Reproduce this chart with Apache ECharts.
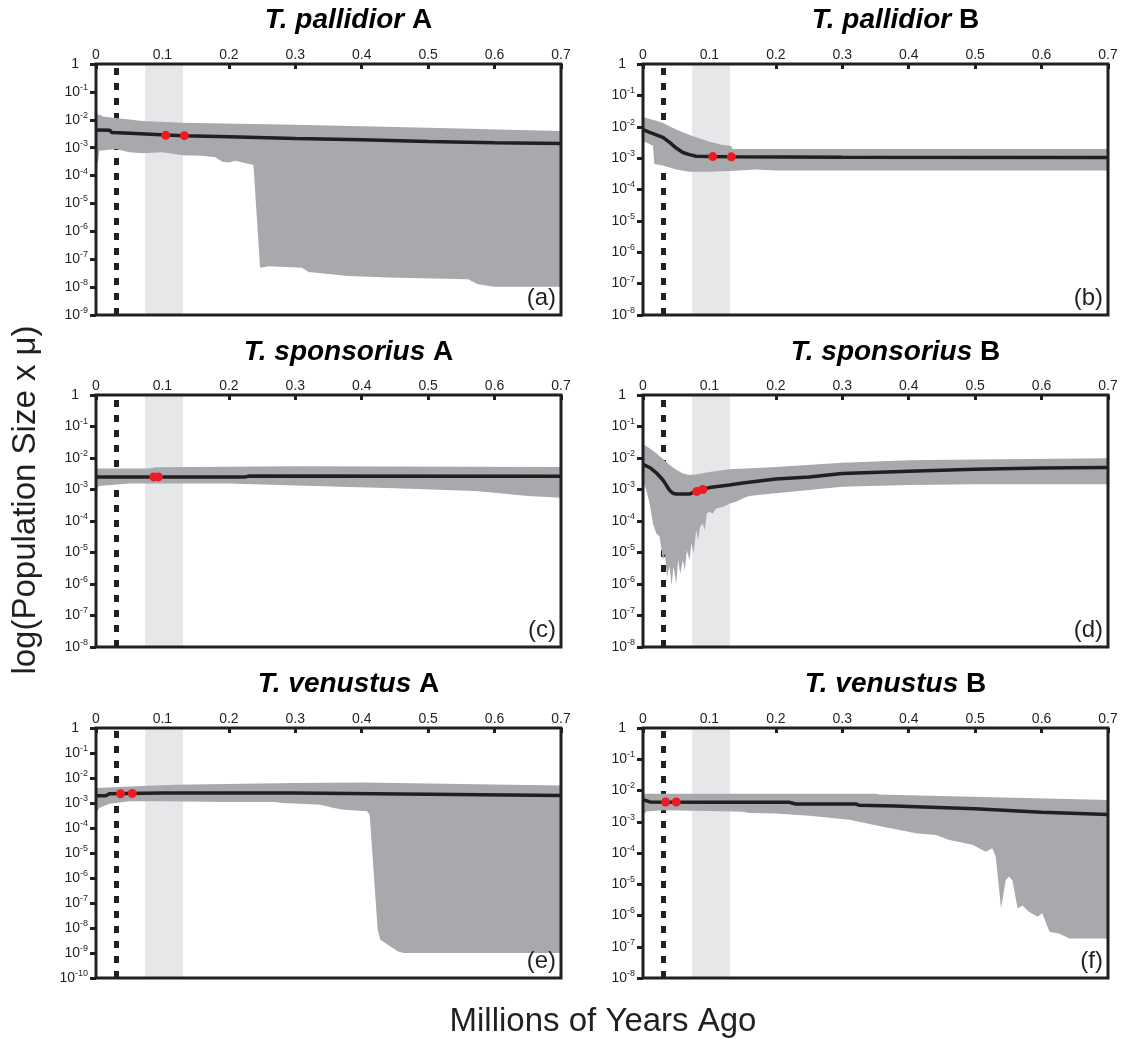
<!DOCTYPE html>
<html>
<head>
<meta charset="utf-8">
<script src="https://cdn.jsdelivr.net/npm/echarts@6/dist/echarts.min.js"></script>
<style>
html,body{margin:0;padding:0;background:#fff;}
#chart{width:1126px;height:1042px;}
</style>
</head>
<body>
<div id="chart"></div>
<script>
// ---------------- DATA ----------------
const xTicks = [0, 0.1, 0.2, 0.3, 0.4, 0.5, 0.6, 0.7];
const panelLetters = ['(a)', '(b)', '(c)', '(d)', '(e)', '(f)'];
const panelSpecies = ['T. pallidior', 'T. pallidior', 'T. sponsorius', 'T. sponsorius', 'T. venustus', 'T. venustus'];
const panelClade = ['A', 'B', 'A', 'B', 'A', 'B'];
const lgmLine = 0.026;            // dashed vertical reference (Myr)
const shadedPeriod = [0.074, 0.131];

// (a) T. pallidior A
const aMedX = [0, 0.021, 0.024, 0.060, 0.063, 0.105, 0.133, 0.2, 0.3, 0.4, 0.5, 0.6, 0.7];
const aMed  = [4.27e-3, 4.17e-3, 3.47e-3, 3.24e-3, 3.02e-3, 2.82e-3, 2.69e-3, 2.45e-3, 2.14e-3, 1.91e-3, 1.66e-3, 1.51e-3, 1.41e-3];
const aUpX  = [0, 0.008, 0.01, 0.03, 0.07, 0.13, 0.3, 0.5, 0.7];
const aUp   = [1.58e-2, 1.45e-2, 1.32e-2, 1.15e-2, 9.1e-3, 7.9e-3, 6.6e-3, 5.2e-3, 4.0e-3];
const aLoX  = [0, 0.003, 0.005, 0.03, 0.05, 0.07, 0.1, 0.13, 0.16, 0.18, 0.19, 0.2, 0.21, 0.23, 0.237, 0.247, 0.26, 0.31, 0.32, 0.38, 0.44, 0.56, 0.575, 0.6, 0.7];
const aLo   = [2.95e-4, 3.0e-4, 7.8e-4, 8.9e-4, 6.8e-4, 6.3e-4, 6.8e-4, 5.4e-4, 5.1e-4, 4.5e-4, 3.1e-4, 2.95e-4, 3.4e-4, 2.6e-4, 2.4e-4, 4.9e-8, 5.6e-8, 4.9e-8, 3.5e-8, 2.5e-8, 2.2e-8, 1.9e-8, 1.26e-8, 1.02e-8, 1.02e-8];
const aDotX = [0.105, 0.133];
const aDot  = [2.8e-3, 2.7e-3];

// (b) T. pallidior B
const bMedX = [0, 0.01, 0.02, 0.03, 0.04, 0.05, 0.06, 0.07, 0.08, 0.1, 0.133, 0.3, 0.7];
const bMed  = [8.1e-3, 6.6e-3, 5.5e-3, 4.6e-3, 3.16e-3, 2.09e-3, 1.51e-3, 1.29e-3, 1.15e-3, 1.12e-3, 1.10e-3, 1.07e-3, 1.05e-3];
const bUpX  = [0, 0.02, 0.03, 0.05, 0.07, 0.08, 0.1, 0.12, 0.132, 0.135, 0.7];
const bUp   = [2.0e-2, 1.55e-2, 1.32e-2, 8.1e-3, 5.5e-3, 4.6e-3, 3.3e-3, 2.6e-3, 2.5e-3, 1.95e-3, 1.95e-3];
const bLoX  = [0, 0.015, 0.017, 0.03, 0.05, 0.07, 0.1, 0.13, 0.17, 0.2, 0.7];
const bLo   = [3.5e-3, 2.5e-3, 6.5e-4, 5.8e-4, 4.3e-4, 3.7e-4, 3.7e-4, 3.9e-4, 4.3e-4, 4.0e-4, 4.0e-4];
const bDotX = [0.105, 0.133];
const bDot  = [1.12e-3, 1.10e-3];

// (c) T. sponsorius A
const cMedX = [0, 0.225, 0.23, 0.7];
const cMed  = [2.51e-3, 2.51e-3, 2.66e-3, 2.63e-3];
const cUpX  = [0, 0.08, 0.09, 0.3, 0.7];
const cUp   = [4.6e-3, 4.6e-3, 5.1e-3, 5.5e-3, 5.2e-3];
const cLoX  = [0, 0.004, 0.05, 0.2, 0.3, 0.45, 0.57, 0.6, 0.65, 0.7];
const cLo   = [7.9e-4, 1.29e-3, 1.55e-3, 1.55e-3, 1.35e-3, 1.10e-3, 8.9e-4, 7.9e-4, 6.2e-4, 5.5e-4];
const cDotX = [0.087, 0.094];
const cDot  = [2.51e-3, 2.51e-3];

// (d) T. sponsorius B
const dMedX = [0, 0.01, 0.02, 0.03, 0.035, 0.04, 0.045, 0.05, 0.07, 0.075, 0.08, 0.09, 0.1, 0.13, 0.15, 0.2, 0.25, 0.3, 0.4, 0.5, 0.6, 0.7];
const dMed  = [6.3e-3, 5.0e-3, 3.4e-3, 2.0e-3, 1.38e-3, 9.5e-4, 7.6e-4, 7.2e-4, 7.2e-4, 7.9e-4, 8.9e-4, 1.0e-3, 1.15e-3, 1.38e-3, 1.62e-3, 2.14e-3, 2.5e-3, 3.2e-3, 3.8e-3, 4.4e-3, 4.8e-3, 5.0e-3];
const dUpX  = [0, 0.01, 0.02, 0.03, 0.04, 0.05, 0.06, 0.07, 0.08, 0.1, 0.13, 0.2, 0.3, 0.4, 0.5, 0.7];
const dUp   = [2.75e-2, 2.04e-2, 1.41e-2, 9.3e-3, 6.0e-3, 4.2e-3, 3.2e-3, 2.9e-3, 3.0e-3, 3.6e-3, 4.4e-3, 5.2e-3, 7.1e-3, 8.5e-3, 8.9e-3, 9.8e-3];
const dLoX  = [0, 0.005, 0.01, 0.015, 0.02, 0.025, 0.03, 0.033, 0.036, 0.04, 0.043, 0.046, 0.05, 0.053, 0.056, 0.06, 0.063, 0.066, 0.07, 0.073, 0.076, 0.08, 0.083, 0.086, 0.09, 0.093, 0.096, 0.1, 0.105, 0.11, 0.12, 0.13, 0.14, 0.15, 0.16, 0.18, 0.2, 0.3, 0.4, 0.5, 0.7];
const dLo   = [2.0e-3, 9.5e-4, 3.6e-4, 8.3e-5, 4.0e-5, 3.2e-5, 5.8e-6, 9.3e-6, 1.7e-6, 3.5e-6, 9.1e-7, 3.5e-6, 1.02e-6, 5.8e-6, 2.1e-6, 5.8e-6, 2.75e-6, 1.17e-5, 5.8e-6, 1.95e-5, 9.3e-6, 5.1e-5, 2.5e-5, 6.6e-5, 8.3e-5, 5.1e-5, 1.74e-4, 1.95e-4, 1.74e-4, 2.5e-4, 2.8e-4, 3.5e-4, 4.1e-4, 5.2e-4, 6.2e-4, 6.9e-4, 7.6e-4, 1.23e-3, 1.38e-3, 1.48e-3, 1.48e-3];
const dDotX = [0.081, 0.09];
const dDot  = [8.7e-4, 1.0e-3];

// (e) T. venustus A
const eMedX = [0, 0.015, 0.02, 0.1, 0.3, 0.5, 0.7];
const eMed  = [1.95e-3, 1.95e-3, 2.34e-3, 2.51e-3, 2.51e-3, 2.24e-3, 2.0e-3];
const eUpX  = [0, 0.06, 0.12, 0.3, 0.4, 0.5, 0.7];
const eUp   = [4.0e-3, 4.7e-3, 5.4e-3, 6.3e-3, 6.6e-3, 6.0e-3, 5.0e-3];
const eLoX  = [0, 0.005, 0.02, 0.05, 0.1, 0.2, 0.27, 0.28, 0.3, 0.338, 0.358, 0.373, 0.408, 0.412, 0.416, 0.424, 0.428, 0.44, 0.454, 0.463, 0.7];
const eLo   = [4.0e-4, 6.3e-4, 9.3e-4, 1.17e-3, 1.17e-3, 1.10e-3, 1.10e-3, 1.0e-3, 9.5e-4, 8.5e-4, 6.3e-4, 5.4e-4, 4.7e-4, 3.4e-4, 1.0e-5, 8.5e-9, 3.4e-9, 2.1e-9, 1.17e-9, 1.0e-9, 1.0e-9];
const eDotX = [0.037, 0.0545];
const eDot  = [2.34e-3, 2.4e-3];

// (f) T. venustus B
const fMedX = [0, 0.01, 0.1, 0.22, 0.23, 0.32, 0.325, 0.38, 0.4, 0.5, 0.6, 0.7];
const fMed  = [5.1e-3, 4.3e-3, 4.2e-3, 4.2e-3, 3.7e-3, 3.7e-3, 3.4e-3, 3.2e-3, 3.1e-3, 2.6e-3, 2.0e-3, 1.7e-3];
const fUpX  = [0, 0.35, 0.355, 0.7];
const fUp   = [7.9e-3, 7.9e-3, 7.4e-3, 5.0e-3];
const fLoX  = [0, 0.005, 0.03, 0.1, 0.15, 0.16, 0.2, 0.25, 0.3, 0.311, 0.361, 0.411, 0.441, 0.461, 0.496, 0.516, 0.526, 0.531, 0.539, 0.546, 0.551, 0.556, 0.564, 0.571, 0.581, 0.594, 0.601, 0.612, 0.627, 0.642, 0.7];
const fLo   = [1.7e-3, 2.14e-3, 2.34e-3, 2.19e-3, 2.09e-3, 1.91e-3, 1.82e-3, 1.55e-3, 1.23e-3, 1.15e-3, 6.9e-4, 4.3e-4, 3.8e-4, 2.6e-4, 1.82e-4, 1.10e-4, 1.41e-4, 7.6e-5, 1.66e-6, 1.35e-5, 1.74e-5, 1.35e-5, 1.66e-6, 2.1e-6, 1.32e-6, 9.1e-7, 1.17e-6, 3.0e-7, 2.6e-7, 1.82e-7, 1.82e-7];
const fDotX = [0.034, 0.05];
const fDot  = [4.3e-3, 4.3e-3];

const yMins = [1e-9, 1e-8, 1e-8, 1e-8, 1e-10, 1e-8];
const yMax = 1;

// ---------------- STYLE / LAYOUT ----------------
const FONT = "'Liberation Sans', Arial, Helvetica, sans-serif";
const INK = '#231f20';
const BAND = '#a7a9ac';
const SHADE = '#e6e7e8';
const RED = '#ed1c24';

const layout = [
  {left: 96,  top: 64,  width: 465, height: 251, titleY: 20.5},
  {left: 643, top: 64,  width: 465, height: 251, titleY: 20.5},
  {left: 96,  top: 395, width: 465, height: 252, titleY: 352},
  {left: 643, top: 395, width: 465, height: 252, titleY: 352},
  {left: 96,  top: 728, width: 465, height: 250, titleY: 684},
  {left: 643, top: 728, width: 465, height: 250, titleY: 684}
];

const panels = [
  {medX: aMedX, med: aMed, upX: aUpX, up: aUp, loX: aLoX, lo: aLo, dotX: aDotX, dot: aDot},
  {medX: bMedX, med: bMed, upX: bUpX, up: bUp, loX: bLoX, lo: bLo, dotX: bDotX, dot: bDot},
  {medX: cMedX, med: cMed, upX: cUpX, up: cUp, loX: cLoX, lo: cLo, dotX: cDotX, dot: cDot},
  {medX: dMedX, med: dMed, upX: dUpX, up: dUp, loX: dLoX, lo: dLo, dotX: dDotX, dot: dDot},
  {medX: eMedX, med: eMed, upX: eUpX, up: eUp, loX: eLoX, lo: eLo, dotX: eDotX, dot: eDot},
  {medX: fMedX, med: fMed, upX: fUpX, up: fUp, loX: fLoX, lo: fLo, dotX: fDotX, dot: fDot}
];

const zip = (xs, ys) => xs.map((x, i) => [x, ys[i]]);

function yFmt(v) {
  const e = Math.round(Math.log10(v));
  if (e === 0) return '{b|1}{sp| }';
  return '{b|10}{s|' + e + '}';
}
function xFmt(v) {
  return Math.abs(v) < 1e-9 ? '0' : (Math.round(v * 10) / 10).toFixed(1);
}

const grid = [], xAxis = [], yAxis = [], series = [], graphics = [];

panels.forEach((p, i) => {
  const L = layout[i];
  grid.push({left: L.left, top: L.top, width: L.width, height: L.height,
    show: true, borderColor: INK, borderWidth: 3, backgroundColor: 'transparent', z: 10});
  xAxis.push({
    type: 'value', gridIndex: i, position: 'top', min: 0, max: 0.7, interval: 0.1,
    axisLine: {show: false},
    axisTick: {show: true, inside: true, length: 5, lineStyle: {color: INK, width: 3}},
    axisLabel: {show: true, margin: 2, fontSize: 14, fontFamily: FONT, color: INK, formatter: xFmt},
    splitLine: {show: false}
  });
  const decades = Math.round(-Math.log10(yMins[i]));
  // a 10-decade span would make ECharts step by 10 decades; nudge the min by a hair
  const axisMin = decades >= 10 ? yMins[i] * 1.0005 : yMins[i];
  yAxis.push({
    type: 'log', logBase: 10, gridIndex: i, min: axisMin, max: yMax, splitNumber: decades,
    axisLine: {show: false},
    axisTick: {show: true, length: 6, lineStyle: {color: INK, width: 3}},
    axisLabel: {show: true, margin: 8, formatter: yFmt, showMinLabel: true, showMaxLabel: true,
      rich: {
        b: {fontSize: 14, fontFamily: FONT, color: INK, lineHeight: 18},
        s: {fontSize: 9, fontFamily: FONT, color: INK, lineHeight: 9, verticalAlign: 'top'},
        sp: {fontSize: 9, fontFamily: FONT, width: 9}
      }},
    splitLine: {show: false},
    minorTick: {show: false}
  });

  // reference shading + dashed line
  series.push({
    type: 'line', xAxisIndex: i, yAxisIndex: i, data: [], silent: true, z: 1,
    markArea: {silent: true, z: 1, itemStyle: {color: SHADE},
      data: [[{xAxis: shadedPeriod[0]}, {xAxis: shadedPeriod[1]}]]},
    markLine: {silent: true, z: 1.5, symbol: ['none', 'none'], label: {show: false},
      lineStyle: {color: INK, width: 5, type: [7, 8], cap: 'butt'},
      emphasis: {disabled: true},
      data: [{xAxis: lgmLine}]}
  });

  // 95% band
  series.push({
    type: 'custom', xAxisIndex: i, yAxisIndex: i, z: 2, silent: true,
    data: [[0, 1e-3]],
    renderItem: function (params, api) {
      const pts = [];
      for (let k = 0; k < p.upX.length; k++) pts.push(api.coord([p.upX[k], p.up[k]]));
      for (let k = p.loX.length - 1; k >= 0; k--) pts.push(api.coord([p.loX[k], p.lo[k]]));
      return {type: 'polygon', shape: {points: pts}, style: {fill: BAND, stroke: null}};
    }
  });

  // median
  series.push({
    type: 'line', xAxisIndex: i, yAxisIndex: i, z: 3, silent: true,
    data: zip(p.medX, p.med), showSymbol: false, symbol: 'none',
    lineStyle: {color: INK, width: 3.5}
  });

  // red dots
  series.push({
    type: 'scatter', xAxisIndex: i, yAxisIndex: i, z: 4, silent: true,
    data: zip(p.dotX, p.dot), symbolSize: 9, itemStyle: {color: RED, opacity: 1}
  });

  // panel title
  graphics.push({
    type: 'text', x: L.left + L.width / 2 + 20, y: L.titleY, silent: true,
    style: {
      text: '{i|' + panelSpecies[i] + '} {n|' + panelClade[i] + '}',
      font: 'bold 28px ' + FONT, fill: '#000',
      align: 'center', verticalAlign: 'middle',
      rich: {
        i: {fontStyle: 'italic', fontWeight: 'bold', fontSize: 28, fontFamily: FONT, fill: '#000', lineHeight: 30},
        n: {fontWeight: 'bold', fontSize: 28, fontFamily: FONT, fill: '#000', lineHeight: 30}
      }
    }
  });
  // panel letter
  graphics.push({
    type: 'text', x: L.left + L.width - 5, y: L.top + L.height - 17, silent: true, z: 20,
    style: {text: panelLetters[i], fontSize: 24, fontFamily: FONT, fill: INK,
      align: 'right', verticalAlign: 'middle'}
  });
});

// axis titles
graphics.push({
  type: 'text', x: 25.5, y: 500, rotation: Math.PI / 2, silent: true,
  style: {text: 'log(Population Size x \u03bc)', fontSize: 33, fontFamily: FONT, fill: INK,
    align: 'center', verticalAlign: 'middle'}
});
graphics.push({
  type: 'text', x: 603, y: 1021.5, silent: true,
  style: {text: 'Millions of Years Ago', fontSize: 33, fontFamily: FONT, fill: INK,
    align: 'center', verticalAlign: 'middle'}
});

const chart = echarts.init(document.getElementById('chart'), null, {renderer: 'canvas'});
chart.setOption({
  animation: false,
  backgroundColor: '#ffffff',
  grid: grid, xAxis: xAxis, yAxis: yAxis, series: series,
  graphic: {elements: graphics}
});
</script>
</body>
</html>
